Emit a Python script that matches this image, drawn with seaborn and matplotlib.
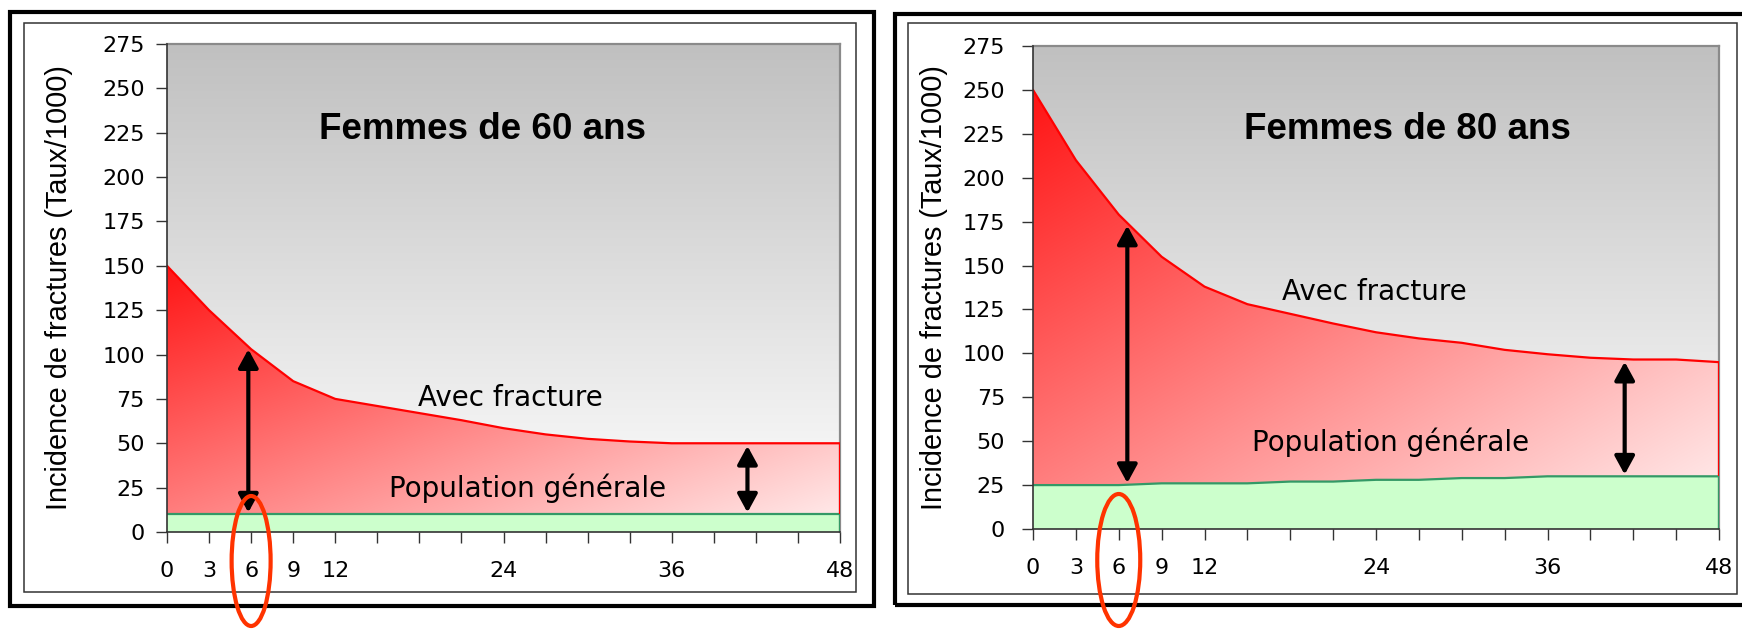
import numpy as np
import pandas as pd
import matplotlib
matplotlib.use("Agg")
import matplotlib.pyplot as plt
import seaborn as sns
from matplotlib.patches import Rectangle, Ellipse
from matplotlib.transforms import IdentityTransform

# ---- data: fracture incidence (rate per 1000) by months after a first fracture ----
months = [0, 3, 6, 9, 12, 15, 18, 21, 24, 27, 30, 33, 36, 39, 42, 45, 48]

frac_60 = [150, 125, 103, 85, 75, 71, 67, 63, 58.5, 55, 52.5, 51, 50, 50, 50, 50, 50]
pop_60 = [10, 10, 10, 10, 10, 10, 10, 10, 10, 10, 10, 10, 10, 10, 10, 10, 10]

frac_80 = [250, 210, 179, 155, 138, 128, 122.5, 117, 112, 108.5, 106, 102, 99.5, 97.5, 96.5, 96.5, 95]
pop_80 = [25, 25, 25, 26, 26, 26, 27, 27, 28, 28, 29, 29, 30, 30, 30, 30, 30]

titles = ["Femmes de 60 ans", "Femmes de 80 ans"]
label_high = "Avec fracture"
label_low = "Population générale"
y_label = "Incidence de fractures (Taux/1000)"
y_ticks = [0, 25, 50, 75, 100, 125, 150, 175, 200, 225, 250, 275]
x_labelled = [0, 3, 6, 9, 12, 24, 36, 48]

# ---- figure set-up ----
sns.set_theme(style="white")
plt.rcParams["font.family"] = ["Liberation Sans", "DejaVu Sans"]

W, H = 1742, 631
fig = plt.figure(figsize=(W / 100, H / 100), dpi=100)
fig.patch.set_facecolor("white")


def axes_px(left, top, right, bottom):
    return fig.add_axes([left / W, 1 - bottom / H, (right - left) / W, (bottom - top) / H])


panels = [
    dict(box=(167, 44, 840, 532), frac=frac_60, pop=pop_60, title=titles[0],
         title_xy=(22.5, 221.5), high_xy=(24.5, 71), low_xy=(25.7, 19.7),
         arrows=[5.8, 41.4], ypad=8, ylab_x=-0.140,
         outer=(10, 25, 864, 594), inner=(24, 39, 832, 569), ell=(70, 39, 130)),
    dict(box=(1033, 46, 1719, 529), frac=frac_80, pop=pop_80, title=titles[1],
         title_xy=(26.2, 222), high_xy=(23.9, 130.4), low_xy=(25.0, 44.4),
         arrows=[6.6, 41.4], ypad=12, ylab_x=-0.124,
         outer=(895, 26, 870, 591), inner=(908, 37, 829, 571), ell=(71, 43, 132)),
]

c_top = np.array([255, 20, 20]) / 255.0
c_bot = np.array([255, 232, 232]) / 255.0

for p in panels:
    ax = axes_px(*p["box"])
    x = np.array(months, dtype=float)
    frac = np.array(p["frac"], dtype=float)
    pop = np.array(p["pop"], dtype=float)

    # grey vertical gradient behind the curves
    g = np.linspace(1.0, 192 / 255, 256).reshape(-1, 1)
    bg = np.repeat(g[..., None], 3, axis=2)
    ax.imshow(bg, extent=[0, 48, 0, 275], origin="lower", aspect="auto",
              zorder=0, interpolation="bilinear")

    # red diagonal gradient between the two curves
    band = ax.fill_between(x, pop, frac, facecolor="none", edgecolor="none", zorder=1)
    X, Y = np.meshgrid(np.linspace(0, 1, 300), np.linspace(0, 1, 300))
    t = (X + (1 - Y)) / 2
    img = c_top + t[..., None] * (c_bot - c_top)
    im = ax.imshow(img, extent=[0, 48, pop.min(), frac.max()], origin="lower",
                   aspect="auto", zorder=1, interpolation="bilinear")
    im.set_clip_path(band.get_paths()[0], transform=ax.transData)

    # green band for the general population
    ax.fill_between(x, 0, pop, facecolor="#ccffcc", edgecolor="none", zorder=2)

    sns.lineplot(x=x, y=pop, ax=ax, color="#339966", lw=1.6, zorder=3)
    sns.lineplot(x=x, y=frac, ax=ax, color="#ff0000", lw=1.6, zorder=3)
    ax.vlines(x[-1], 0, pop[-1], color="#339966", lw=1.6, zorder=3)
    ax.vlines(x[-1], pop[-1], frac[-1], color="#ff0000", lw=1.6, zorder=3)

    # double arrows showing the excess risk
    for ax_x in p["arrows"]:
        top = np.interp(ax_x, x, frac) - 1.5
        bot = np.interp(ax_x, x, pop) + 1.0
        ax.annotate("", xy=(ax_x, top), xytext=(ax_x, bot),
                    arrowprops=dict(arrowstyle="<|-|>,head_length=0.55,head_width=0.3",
                                    color="black", lw=3, mutation_scale=20,
                                    shrinkA=0, shrinkB=0), zorder=5)

    ax.text(*p["title_xy"], p["title"], ha="center", va="baseline",
            fontsize=26.5, fontweight="bold", color="black", zorder=6)
    ax.text(*p["high_xy"], label_high, ha="center", va="baseline", fontsize=20,
            family=["DejaVu Sans"], color="black", zorder=6)
    ax.text(*p["low_xy"], label_low, ha="center", va="baseline", fontsize=20,
            family=["DejaVu Sans"], color="black", zorder=6)

    # axes styling
    ax.set_xlim(0, 48)
    ax.set_ylim(0, 275)
    ax.set_xticks(months)
    ax.set_xticklabels([str(m) if m in x_labelled else "" for m in months],
                       family=["DejaVu Sans"])
    ax.set_yticks(y_ticks)
    ax.set_yticklabels([str(v) for v in y_ticks], family=["DejaVu Sans"])
    ax.tick_params(axis="both", which="major", direction="out", length=8, width=1,
                   color="#333333", labelsize=16, labelcolor="black",
                   bottom=True, left=True)
    ax.tick_params(axis="x", pad=13)
    ax.tick_params(axis="y", pad=p["ypad"])
    ax.set_xlabel("")
    ax.set_ylabel(y_label, fontsize=20.8, color="black")
    ax.yaxis.set_label_coords(p["ylab_x"], 0.5)
    for side in ("left", "bottom"):
        ax.spines[side].set_color("#333333")
        ax.spines[side].set_linewidth(1.2)
        ax.spines[side].set_zorder(7)
    for side in ("top", "right"):
        ax.spines[side].set_color("#8a8a8a")
        ax.spines[side].set_linewidth(1.6)

    # frames around each chart
    ox, oy, ow, oh = p["outer"]
    fig.add_artist(Rectangle((ox, oy), ow, oh, fill=False, edgecolor="black",
                             lw=3.0, transform=IdentityTransform()))
    ix, iy, iw, ih = p["inner"]
    fig.add_artist(Rectangle((ix, iy), iw, ih, fill=False, edgecolor="#333333",
                             lw=1.1, transform=IdentityTransform()))

    # highlight circle around month 6
    ey, ew, eh = p["ell"]
    ex = ax.transData.transform((6, 0))[0]
    fig.add_artist(Ellipse((ex, ey), ew, eh, fill=False, edgecolor="#ff3300",
                           lw=3.0, transform=IdentityTransform(), zorder=10))

fig.savefig("out.png", dpi=100, facecolor="white")
